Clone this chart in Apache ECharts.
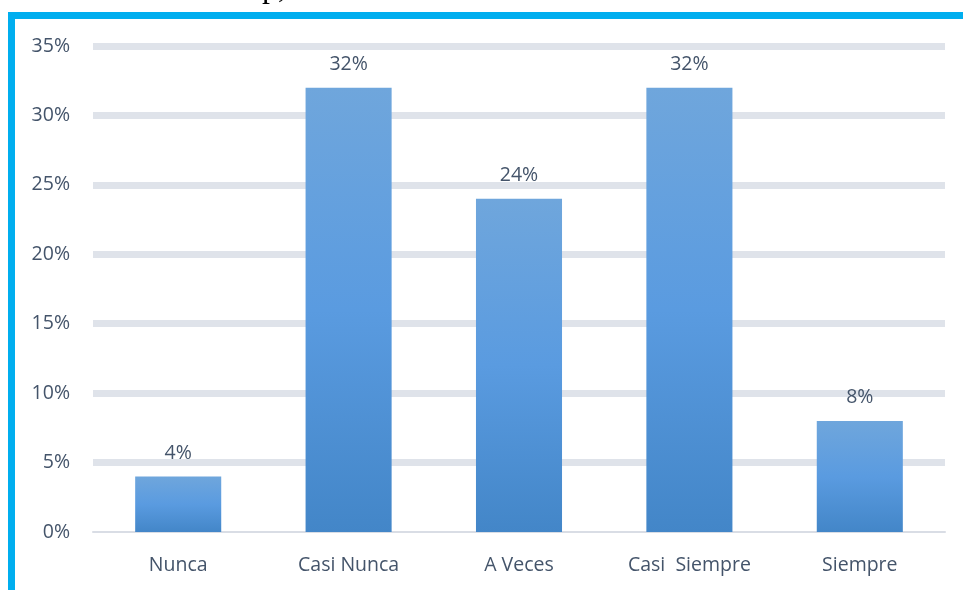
<!DOCTYPE html>
<html><head><meta charset="utf-8">
<script src="https://cdn.jsdelivr.net/npm/echarts@6/dist/echarts.min.js"></script>
<style>html,body{margin:0;padding:0;background:#fff}#c{width:963px;height:590px}</style>
</head><body><div id="c"></div>
<script>
const categories = ['Nunca', 'Casi Nunca', 'A Veces', 'Casi  Siempre', 'Siempre'];
const values = [4, 32, 24, 32, 8];
const yMax = 35;
const yInterval = 5;

const chart = echarts.init(document.getElementById('c'));
const txt = '#44546a';
chart.setOption({
  animation: false,
  backgroundColor: '#ffffff',
  grid: { left: 93, right: 18, top: 46, bottom: 58 },
  xAxis: {
    type: 'category',
    data: categories,
    axisTick: { show: false },
    axisLine: { show: true, lineStyle: { color: '#d9dde5', width: 2 } },
    axisLabel: { color: txt, fontFamily: 'Open Sans', fontSize: 19.5, margin: 23 }
  },
  yAxis: {
    type: 'value',
    min: 0, max: yMax, interval: yInterval,
    axisLine: { show: false },
    axisTick: { show: false },
    axisLabel: { color: txt, fontFamily: 'Open Sans', fontSize: 19.5, margin: 23, formatter: '{value}%' },
    splitLine: { show: true, lineStyle: { color: ['rgba(0,0,0,0)', '#dfe3ea', '#dfe3ea', '#dfe3ea', '#dfe3ea', '#dfe3ea', '#dfe3ea', '#dfe3ea'], width: 7 } }
  },
  series: [{
    type: 'bar',
    data: values,
    barWidth: '50.5%',
    itemStyle: {
      color: new echarts.graphic.LinearGradient(0, 0, 0, 1, [
        { offset: 0, color: '#6fa6dc' },
        { offset: 0.5, color: '#5a9be0' },
        { offset: 1, color: '#4386c8' }
      ])
    },
    label: { show: true, position: 'top', distance: 13, color: txt, fontFamily: 'Open Sans', fontSize: 19.5, formatter: '{c}%' }
  }],
  graphic: [
    { type: 'rect', left: 8, top: 12, shape: { width: 7, height: 578 }, style: { fill: '#00aeef' }, z: 100 },
    { type: 'rect', left: 8, top: 12, shape: { width: 955, height: 7 }, style: { fill: '#00aeef' }, z: 100 },
    { type: 'text', x: 262, y: -27, style: { text: 'p,', font: '32px "Liberation Serif"', fill: '#000' }, z: 100 }
  ]
});
</script></body></html>
